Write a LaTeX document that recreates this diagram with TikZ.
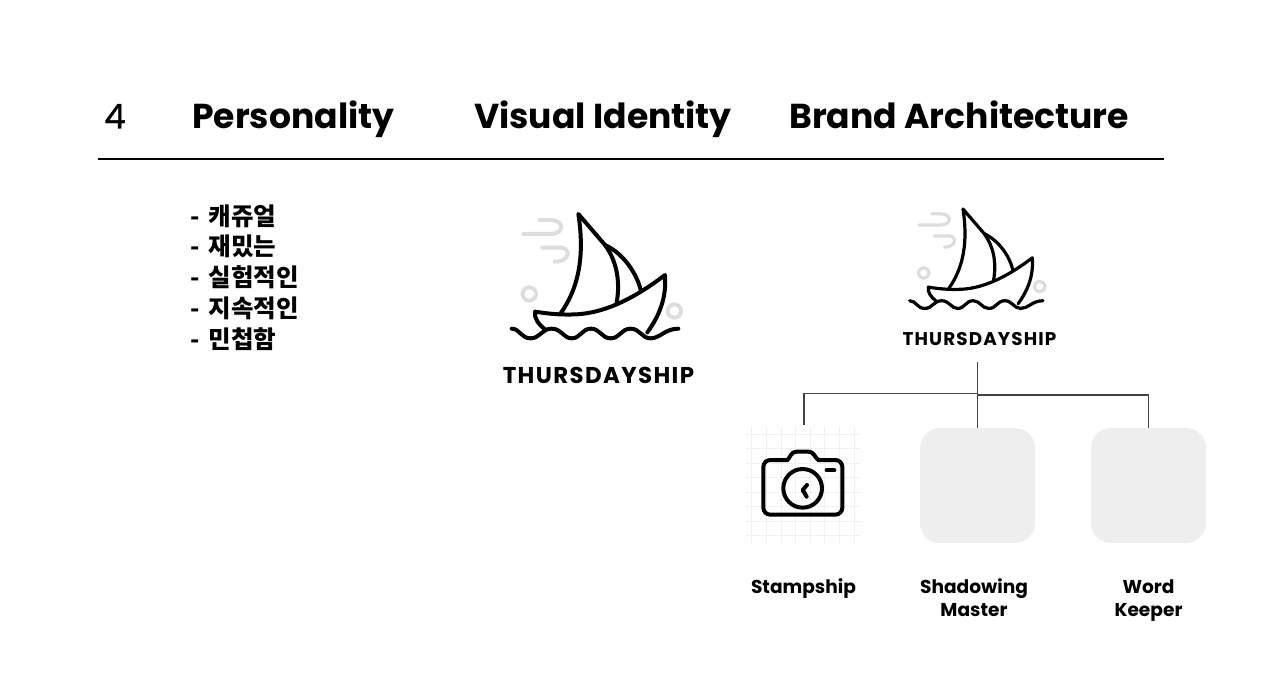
\documentclass[tikz,border=0pt]{standalone}
\usepackage{fontspec}
\setmainfont{Poppins}
\newfontfamily\hangul{Noto Sans CJK KR}
\newfontfamily\logofont[LetterSpace=6]{Poppins}
\tikzset{
  ink/.style={draw=black,line cap=round,line join=round,fill=none},
  soft/.style={draw=shipgray,line cap=round,line join=round,fill=none},
  heading/.style={anchor=base west,inner sep=0pt,font=\fontsize{34.6}{34.6}\selectfont\bfseries,text=black},
  label/.style={anchor=base,inner sep=0pt,align=center,font=\fontsize{18.6}{23}\selectfont\bfseries,text=black},
  tile/.style={fill=tilegray,draw=none,rounded corners=20pt,minimum width=115pt,minimum height=115pt,inner sep=0pt},
  link/.style={draw=linkgray,line width=1.2pt},
  kline/.style={anchor=base west,inner sep=0pt,font=\hangul\fontsize{24.5}{24.5}\selectfont\bfseries,text=black},
  logotext/.style={anchor=base,inner sep=0pt,text=black,font=\logofont\bfseries}
}
\definecolor{shipgray}{HTML}{DDDDDD}
\definecolor{tilegray}{HTML}{EEEEEE}
\definecolor{linkgray}{HTML}{444444}
\definecolor{gridgray}{HTML}{F1F1F1}
% ship drawn in 3x zoom units
\newcommand{\shipdraw}[3]{%
\begin{scope}[shift={(#1,#2)},x=#3*1pt/3,y=-#3*1pt/3]
  \draw[soft,line width=#3*4pt] (100,102) -- (180,102) .. controls (225,102) and (225,60) .. (180,60) -- (148,60);
  \draw[soft,line width=#3*4pt] (157,143) -- (210,143) .. controls (245,143) and (240,185) .. (195,185);
  \draw[soft,line width=#3*4pt] (118,282) circle (20);
  \draw[soft,line width=#3*4pt] (553,333) circle (20);
  \draw[ink,line width=#3*4pt] (212,340) .. controls (265,265) and (285,170) .. (265,42) -- (345,135) .. controls (378,180) and (392,240) .. (380,308);
  \draw[ink,line width=#3*4pt] (345,135) .. controls (400,160) and (440,220) .. (452,270);
  \draw[ink,line width=#3*4pt] (165,388) .. controls (145,372) and (132,355) .. (135,335) .. controls (180,342) and (215,345) .. (260,343) .. controls (350,338) and (440,290) .. (525,225) .. controls (530,290) and (510,345) .. (472,397);
  \draw[ink,line width=#3*4pt] (65,386) .. controls (90,386) and (92,415) .. (122,415) .. controls (150,415) and (155,386) .. (185,386) .. controls (215,386) and (220,415) .. (245,415) .. controls (272,415) and (275,386) .. (303,386) .. controls (330,386) and (335,415) .. (362,415) .. controls (390,415) and (393,386) .. (422,386) .. controls (450,386) and (455,415) .. (482,415) .. controls (510,415) and (525,386) .. (565,386);
\end{scope}}
\begin{document}
\begin{tikzpicture}[x=1pt,y=-1pt]
\useasboundingbox (0,0) rectangle (1280,695);
% headings
\node[anchor=base west,inner sep=0pt,font=\fontsize{34}{34}\selectfont\addfontfeatures{FakeBold=1},text=black] (num) at (104,128.5) {4};
\node[heading] (h1) at (192,129) {Personality};
\node[heading] (h2) at (474,129) {Visual Identity};
\node[heading] (h3) at (789,129) {Brand Architecture};
\coordinate (ruleL) at (98,159);
\coordinate (ruleR) at (1164,159);
\draw[black,line width=1.6pt] (ruleL) -- (ruleR);
% Korean list
\node[kline] (k1) at (190,225.5) {-\hspace{9pt}캐쥬얼};
\node[kline] (k2) at (190,256) {-\hspace{9pt}재밌는};
\node[kline] (k3) at (190,286.5) {-\hspace{9pt}실험적인};
\node[kline] (k4) at (190,317.5) {-\hspace{9pt}지속적인};
\node[kline] (k5) at (190,348.5) {-\hspace{9pt}민첩함};
% ships
\shipdraw{490}{200}{1}
\node[logotext,font=\logofont\bfseries\fontsize{22.9}{22.9}\selectfont] (biglogo) at (598.5,383) {THURSDAYSHIP};
\shipdraw{892.3}{197.8}{0.8}
\node[logotext,font=\logofont\bfseries\fontsize{18.4}{18.4}\selectfont] (smalllogo) at (979.5,345) {THURSDAYSHIP};
% camera grid
\foreach \gx in {65,110,153,197,240,283,328,373}
  \draw[gridgray,line width=.8pt] ({730+\gx/3},{360+200/3}) -- ({730+\gx/3},{360+548/3});
\foreach \gy in {222,265,310,352,397,440,485,527}
  \draw[gridgray,line width=.8pt] ({730+45/3},{360+\gy/3}) -- ({730+393/3},{360+\gy/3});
% camera
\begin{scope}[shift={(730,360)},x=1pt/3,y=-1pt/3]
  \draw[ink,line width=4pt,rounded corners=7pt] (172,300) -- (100,300) -- (100,464) -- (337,464) -- (337,300) -- (265,300);
  \draw[ink,line width=4pt] (172,300) .. controls (182,292) and (182,275) .. (200,275) -- (235,275) .. controls (253,275) and (253,292) .. (265,300);
  \draw[ink,line width=4pt] (218,385) circle (58);
  \draw[ink,line width=4pt] (290,331) -- (313,331);
  \draw[ink,line width=4pt] (231,375) -- (218,390) -- (230,410);
\end{scope}
% tiles
\node[minimum width=115pt,minimum height=115pt,inner sep=0pt] (stamp) at (803,485.5) {};
\node[tile] (shadow) at (977.5,485.5) {};
\node[tile] (word) at (1148.5,485.5) {};
% connectors
\coordinate (trunkTop) at (977.5,362);
\coordinate (jl) at (977.5,393.5);
\coordinate (jr) at (977.5,395);
\coordinate (stampTop) at (804,425);
\draw[link] (trunkTop) -- (jr) -- (shadow.north);
\draw[link] (jl) -| (stampTop);
\draw[link] (jr) -| (word.north);
% labels
\node[label] (l1) at (803.5,593.5) {Stampship};
\node[label] (l2) at (974,616.5) {Shadowing\\Master};
\node[label] (l3) at (1148.5,616.5) {Word\\Keeper};
\end{tikzpicture}
\end{document}
